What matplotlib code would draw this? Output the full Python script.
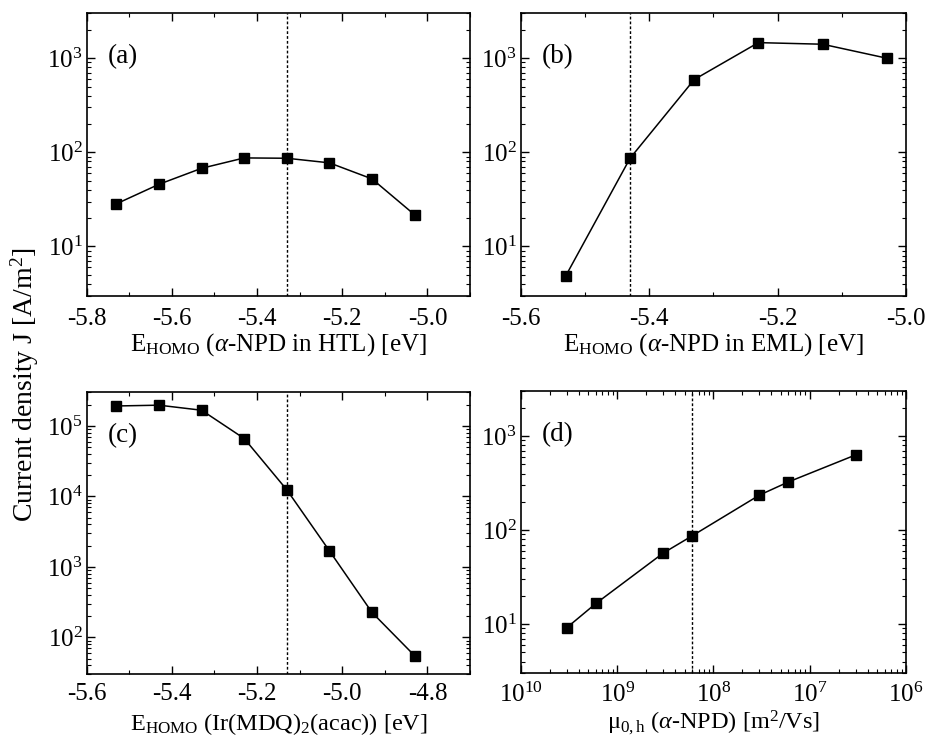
import matplotlib
matplotlib.use("Agg")
import matplotlib.pyplot as plt
from matplotlib.ticker import MultipleLocator, LogLocator, FuncFormatter, NullFormatter, FixedLocator
import numpy as np

plt.rcParams['font.family'] = ['Liberation Serif', 'DejaVu Serif']
plt.rcParams['mathtext.fontset'] = 'custom'
plt.rcParams['mathtext.rm'] = 'Liberation Serif'
plt.rcParams['mathtext.it'] = 'Liberation Serif:italic'
plt.rcParams['mathtext.bf'] = 'Liberation Serif:bold'

# ---- data ----
ehomo_htl = [-5.73, -5.63, -5.53, -5.43, -5.33, -5.23, -5.13, -5.03]
j_htl = [28.4, 45.8, 67.7, 87.2, 86.5, 77.3, 52.2, 21.7]
ref_htl = -5.33

ehomo_eml = [-5.53, -5.43, -5.33, -5.23, -5.13, -5.03]
j_eml = [4.9, 86.5, 593, 1463, 1407, 1000]
ref_eml = -5.43

ehomo_dop = [-5.53, -5.43, -5.33, -5.23, -5.13, -5.03, -4.93, -4.83]
j_dop = [192000, 197000, 167000, 66200, 12400, 1690, 226, 55]
ref_dop = -5.13

mobility = [3e-10, 6e-10, 3e-9, 6e-9, 3e-8, 6e-8, 3e-7]
j_mob = [9.2, 16.6, 57, 87, 236, 326, 632]
ref_mob = 6e-9

xticks_a = [-5.8, -5.6, -5.4, -5.2, -5.0]
xticks_b = [-5.6, -5.4, -5.2, -5.0]
xticks_c = [-5.6, -5.4, -5.2, -5.0, -4.8]

xlabels = [r"E$_{\mathrm{HOMO}}$ ($\alpha$-NPD in HTL) [eV]",
           r"E$_{\mathrm{HOMO}}$ ($\alpha$-NPD in EML) [eV]",
           r"E$_{\mathrm{HOMO}}$ (Ir(MDQ)$_2$(acac)) [eV]",
           r"μ$_{0,\mathrm{h}}$ ($\alpha$-NPD) [m$^2$/Vs]"]
panel_labels = ["(a)", "(b)", "(c)", "(d)"]
ylabel = r"Current density J [A/m$^2$]"

FS = 18

fig = plt.figure(figsize=(9.31, 7.37), dpi=100)
axa = fig.add_axes([0.0931, 0.5988, 0.4117, 0.3832])
axb = fig.add_axes([0.5596, 0.5988, 0.4135, 0.3832])
axc = fig.add_axes([0.0931, 0.0851, 0.4117, 0.3826])
axd = fig.add_axes([0.5596, 0.0864, 0.4135, 0.3826])

def logfmt(v, pos):
    if v <= 0:
        return ""
    e = int(round(np.log10(v)))
    return r"$10^{%d}$" % abs(e)

def style(ax, xlab, plab, lpad=1, xpad=9, xfs=FS):
    ax.set_yscale('log')
    ax.yaxis.set_major_locator(LogLocator(base=10, numticks=20))
    ax.yaxis.set_minor_locator(LogLocator(base=10, subs=np.arange(2, 10), numticks=20))
    ax.yaxis.set_major_formatter(FuncFormatter(logfmt))
    ax.yaxis.set_minor_formatter(NullFormatter())
    ax.tick_params(which='both', direction='in', top=True, right=True, labelsize=FS)
    ax.tick_params(which='major', length=6, width=1.0)
    ax.tick_params(which='minor', length=3, width=0.8)
    ax.tick_params(axis='x', which='major', pad=xpad)
    ax.tick_params(axis='y', which='major', pad=3)
    for s in ax.spines.values():
        s.set_linewidth(1.2)
    ax.set_xlabel(xlab, fontsize=xfs, labelpad=lpad)
    ax.text(0.055, 0.845, plab, transform=ax.transAxes, fontsize=19.5, va='center', ha='left')

def linear_x(ax, ticks, lim):
    ax.set_xlim(*lim)
    ax.xaxis.set_major_locator(FixedLocator(ticks))
    ax.xaxis.set_minor_locator(MultipleLocator(0.1))
    ax.xaxis.set_major_formatter(FuncFormatter(lambda v, p: "%.1f" % v))

def plot(ax, x, y, ref):
    ax.axvline(ref, color='black', linestyle=(0, (2, 1.5)), linewidth=1.0, zorder=1)
    ax.plot(x, y, color='black', linewidth=1.1, marker='s', markersize=6.5, zorder=3)

plot(axa, ehomo_htl, j_htl, ref_htl)
style(axa, xlabels[0], panel_labels[0])
linear_x(axa, xticks_a, (-5.8, -4.9))
axa.set_ylim(3, 3000)

plot(axb, ehomo_eml, j_eml, ref_eml)
style(axb, xlabels[1], panel_labels[1])
linear_x(axb, xticks_b, (-5.6, -5.0))
axb.set_ylim(3, 3000)

plot(axc, ehomo_dop, j_dop, ref_dop)
style(axc, xlabels[2], panel_labels[2], lpad=5, xpad=6, xfs=17.5)
linear_x(axc, xticks_c, (-5.6, -4.7))
axc.set_ylim(30, 3e5)

plot(axd, mobility, j_mob, ref_mob)
style(axd, xlabels[3], panel_labels[3], lpad=1, xpad=7, xfs=17.5)
axd.set_xscale('log')
axd.set_xlim(1e-10, 1e-6)
axd.set_ylim(3, 3000)
axd.xaxis.set_major_locator(LogLocator(base=10, numticks=20))
axd.xaxis.set_minor_locator(LogLocator(base=10, subs=np.arange(2, 10), numticks=20))
axd.xaxis.set_major_formatter(FuncFormatter(logfmt))
axd.xaxis.set_minor_formatter(NullFormatter())
axd.tick_params(which='both', direction='in', top=True, right=True)

fig.text(0.027, 0.478, ylabel, rotation=90, va='center', ha='center', fontsize=20)

fig.savefig("out.png", dpi=100)
